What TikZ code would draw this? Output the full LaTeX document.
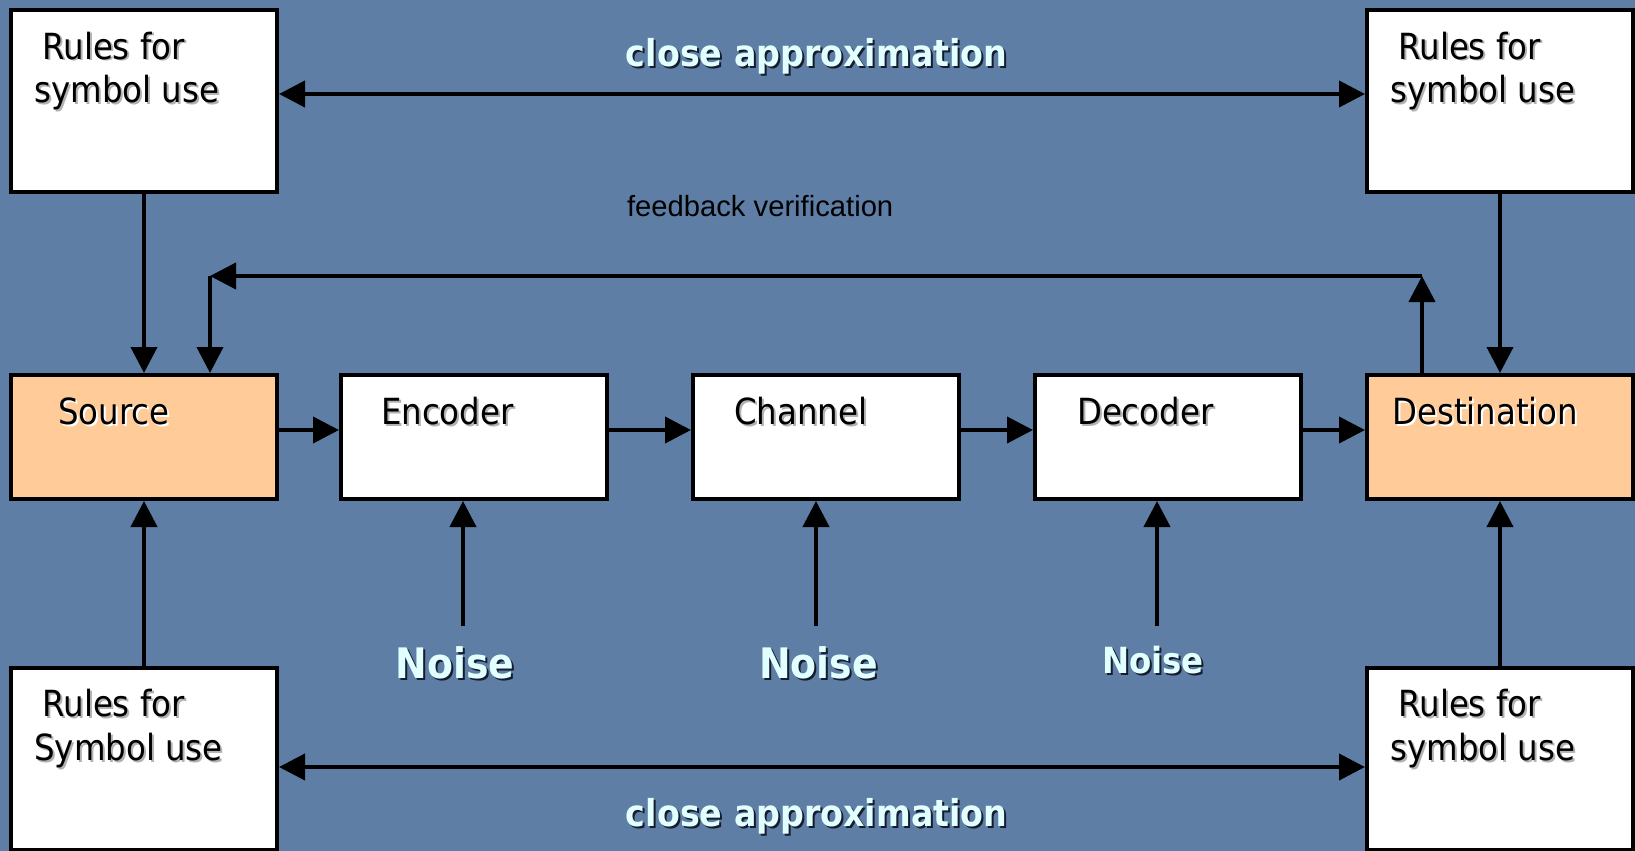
\documentclass[tikz,border=0pt]{standalone}
\usepackage{fontspec}
\setmainfont[FakeStretch=0.9]{DejaVu Sans}
\newfontfamily\fbfont{Liberation Sans}
\usetikzlibrary{arrows.meta}

\definecolor{slide}{RGB}{94,126,166}
\definecolor{peach}{RGB}{255,204,153}
\definecolor{glow}{RGB}{226,255,255}
\definecolor{dropshade}{RGB}{20,28,45}

% text with a small drop shadow behind it
\newcommand\shadowed[2]{\rlap{\kern1pt\raisebox{-1pt}{\textcolor{#1}{#2}}}#2}

\begin{document}
\begin{tikzpicture}[x=0.5pt,y=-0.5pt,
  >={Triangle[length=13pt,width=13pt]},
  box/.style={draw=black,line width=2pt,minimum width=133pt,minimum height=#1,inner sep=0pt},
  rulebox/.style={box=91pt,fill=white},
  stagebox/.style={box=62pt,fill=white},
  endbox/.style={box=62pt,fill=peach},
  boxtext/.style={font=\fontsize{18pt}{21.5pt}\selectfont,inner sep=0pt,anchor=base west},
  caption/.style={font=\bfseries\fontsize{18.5pt}{22pt}\selectfont,text=glow,inner sep=0pt,anchor=base},
  noisetext/.style={font=\bfseries\fontsize{#1}{#1}\selectfont,text=glow,inner sep=0pt,anchor=base},
  arr/.style={line width=2pt,->},
  biarr/.style={line width=2pt,<->}
]
\useasboundingbox (0,0) rectangle (1635,851);
\clip (0,0) rectangle (1635,851);
\fill[slide] (0,0) rectangle (1635,851);

% blocks
\node[rulebox] (tl) at (144,101) {};
\node[rulebox] (tr) at (1500,101) {};
\node[endbox] (src) at (144,437) {};
\node[stagebox] (enc) at (474,437) {};
\node[stagebox] (chn) at (826,437) {};
\node[stagebox] (dec) at (1168,437) {};
\node[endbox] (dst) at (1500,437) {};
\node[rulebox] (bl) at (144,759) {};
\node[rulebox] (br) at (1500,759) {};

% block texts
\node[boxtext] (tl1) at ([shift={(-102,-42)}]tl.center) {\shadowed{gray!60}{Rules for}};
\node[boxtext] (tl2) at ([shift={(-110,1)}]tl.center) {\shadowed{gray!60}{symbol use}};
\node[boxtext] (tr1) at ([shift={(-102,-42)}]tr.center) {\shadowed{gray!60}{Rules for}};
\node[boxtext] (tr2) at ([shift={(-110,1)}]tr.center) {\shadowed{gray!60}{symbol use}};
\node[boxtext] (bl1) at ([shift={(-102,-43)}]bl.center) {\shadowed{gray!60}{Rules for}};
\node[boxtext] (bl2) at ([shift={(-110,1)}]bl.center) {\shadowed{gray!60}{Symbol use}};
\node[boxtext] (br1) at ([shift={(-102,-43)}]br.center) {\shadowed{gray!60}{Rules for}};
\node[boxtext] (br2) at ([shift={(-110,1)}]br.center) {\shadowed{gray!60}{symbol use}};

\node[boxtext] (srcT) at ([shift={(-86,-13)}]src.center) {\shadowed{white}{Source}};
\node[boxtext] (encT) at ([shift={(-93.4,-13)}]enc.center) {\shadowed{gray!60}{Encoder}};
\node[boxtext] (chnT) at ([shift={(-92.3,-13)}]chn.center) {\shadowed{gray!60}{Channel}};
\node[boxtext] (decT) at ([shift={(-91.3,-13)}]dec.center) {\shadowed{gray!60}{Decoder}};
\node[boxtext] (dstT) at ([shift={(-108,-13)}]dst.center) {\shadowed{white}{Destination}};

% rules feed the end points
\draw[arr] (tl) -- (src);
\draw[arr] (bl) -- (src);
\draw[arr] (tr) -- (dst);
\draw[arr] (br) -- (dst);

% main chain
\coordinate (chainY) at (0,430);
\draw[arr] (src.east |- chainY) -- (enc.west |- chainY);
\draw[arr] (enc.east |- chainY) -- (chn.west |- chainY);
\draw[arr] (chn.east |- chainY) -- (dec.west |- chainY);
\draw[arr] (dec.east |- chainY) -- (dst.west |- chainY);

% feedback loop
\coordinate (fbR) at (1422,276);
\coordinate (fbL) at (210,276);
\draw[arr] (dst.north -| fbR) -- (fbR);
\draw[arr] (fbR) -- (fbL);
\draw[arr] (fbL) -- (src.north -| fbL);
\node[font=\fbfont\fontsize{14.6pt}{17pt}\selectfont,inner sep=0pt,anchor=base west] (fbT) at (626.7,216) {feedback verification};

% noise sources
\coordinate (nz1) at (463,626);
\coordinate (nz2) at (816,626);
\coordinate (nz3) at (1157,626);
\draw[arr] (nz1) -- (enc.south -| nz1);
\draw[arr] (nz2) -- (chn.south -| nz2);
\draw[arr] (nz3) -- (dec.south -| nz3);
\node[noisetext=21pt] (nzT1) at (455,678) {\shadowed{dropshade}{Noise}};
\node[noisetext=21pt] (nzT2) at (818.5,678) {\shadowed{dropshade}{Noise}};
\node[noisetext=18pt] (nzT3) at (1153,673) {\shadowed{dropshade}{Noise}};

% shared rules
\coordinate (topY) at (0,94);
\coordinate (botY) at (0,767);
\draw[biarr] (tl.east |- topY) -- (tr.west |- topY);
\draw[biarr] (bl.east |- botY) -- (br.west |- botY);
\node[caption] (capTop) at (816.7,67) {\shadowed{dropshade}{close approximation}};
\node[caption] (capBot) at (816.7,826) {\shadowed{dropshade}{close approximation}};
\end{tikzpicture}
\end{document}
